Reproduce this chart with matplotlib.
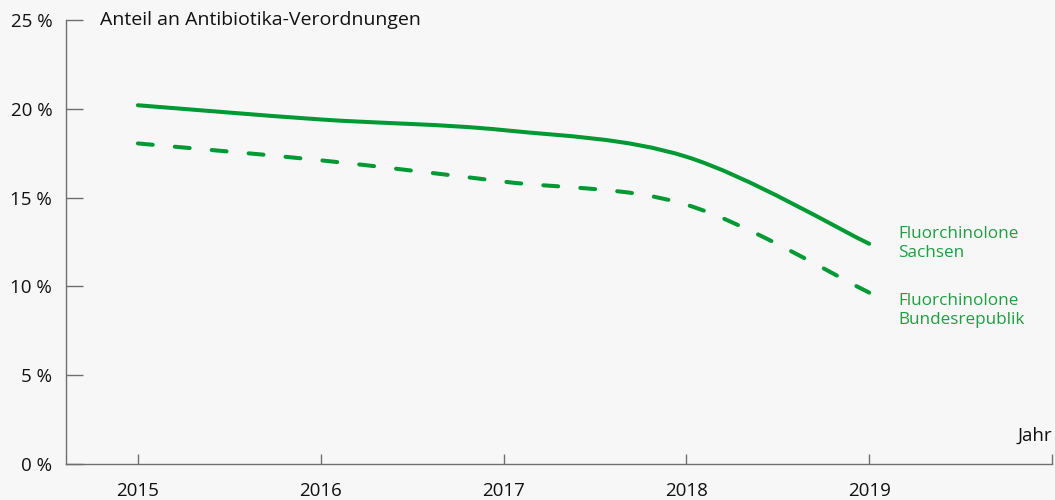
#!/usr/bin/env python3
# coding: utf-8

import numpy as np
import matplotlib
matplotlib.use("Agg")
import matplotlib.pyplot as plt
from matplotlib.path import Path
from matplotlib.patches import PathPatch

# DATA ########################################################################

years = [2015, 2016, 2017, 2018, 2019]
sachsen = [20.2, 19.4, 18.8, 17.3, 12.4]
bund = [18.05, 17.1, 15.9, 14.6, 9.65]

y_ticks = [0, 5, 10, 15, 20, 25]
y_labels = ["0 %", "5 %", "10 %", "15 %", "20 %", "25 %"]

label_sachsen = "Fluorchinolone\nSachsen"
label_bund = "Fluorchinolone\nBundesrepublik"

GREEN = "#009933"
TEXT_GREEN = "#1e9e40"
AXIS = "#6e6e6e"
BG = "#f7f7f7"

plt.rcParams['font.family'] = ['Open Sans', 'DejaVu Sans']


def smooth_path(xs, ys):
    # Catmull-Rom spline through the points, written as cubic bezier segments
    pts = np.column_stack([xs, ys]).astype(float)
    ext = np.vstack([pts[0], pts, pts[-1]])
    verts = [tuple(pts[0])]
    codes = [Path.MOVETO]
    for i in range(1, len(ext) - 2):
        p0, p1, p2, p3 = ext[i - 1], ext[i], ext[i + 1], ext[i + 2]
        c1 = p1 + (p2 - p0) / 6.0
        c2 = p2 - (p3 - p1) / 6.0
        verts += [tuple(c1), tuple(c2), tuple(p2)]
        codes += [Path.CURVE4] * 3
    return Path(verts, codes)


fig = plt.figure(figsize=(10.55, 5.0), dpi=100, facecolor=BG)
ax = fig.add_axes([0.0626, 0.072, 0.9346, 0.888])
ax.set_facecolor(BG)

ax.add_patch(PathPatch(smooth_path(years, sachsen), fill=False, edgecolor=GREEN,
                       linewidth=2.9, capstyle='round'))
ax.add_patch(PathPatch(smooth_path(years, bund), fill=False, edgecolor=GREEN,
                       linewidth=2.9, capstyle='round', linestyle=(0, (3.7, 5.5))))

ax.set_xlim(2014.607, 2020.0)
ax.set_ylim(0, 25)

for sp in ["top", "right"]:
    ax.spines[sp].set_visible(False)
for sp in ["left", "bottom"]:
    ax.spines[sp].set_color(AXIS)
    ax.spines[sp].set_linewidth(1.0)

ax.set_xticks(years + [2020])
ax.set_xticklabels([str(y) for y in years] + [""])
ax.set_yticks(y_ticks)
ax.set_yticklabels(y_labels)

ax.tick_params(axis="x", direction="in", length=7, width=1, color=AXIS,
               labelsize=13.5, pad=13, labelcolor="#111111")
ax.tick_params(axis="y", direction="in", length=12, width=1, color=AXIS,
               labelsize=13.5, pad=10, labelcolor="#111111")

ax.text(2014.795, 25, "Anteil an Antibiotika-Verordnungen", fontsize=14,
        ha="left", va="center", color="#111111")
ax.text(2020.0, 1.6, "Jahr", fontsize=13.5, ha="right", va="center", color="#111111")

ax.annotate(label_sachsen, xy=(years[-1], sachsen[-1]), xytext=(29, 0),
            textcoords="offset pixels", ha="left", va="center",
            fontsize=12.3, color=TEXT_GREEN, linespacing=1.25)
ax.annotate(label_bund, xy=(years[-1], bund[-1]), xytext=(29, -18),
            textcoords="offset pixels", ha="left", va="center",
            fontsize=12.3, color=TEXT_GREEN, linespacing=1.25)

fig.savefig("out.png", dpi=100, facecolor=BG)
